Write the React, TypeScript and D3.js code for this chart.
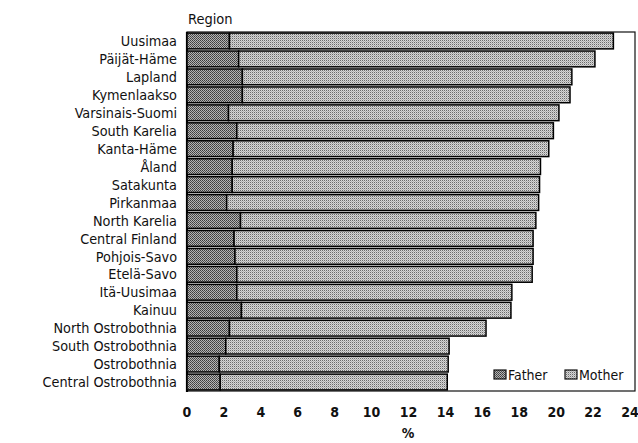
import React from "react";
import * as d3 from "d3";

const regions = [
  "Uusimaa", "Päijät-Häme", "Lapland", "Kymenlaakso", "Varsinais-Suomi",
  "South Karelia", "Kanta-Häme", "Åland", "Satakunta", "Pirkanmaa",
  "North Karelia", "Central Finland", "Pohjois-Savo", "Etelä-Savo", "Itä-Uusimaa",
  "Kainuu", "North Ostrobothnia", "South Ostrobothnia", "Ostrobothnia", "Central Ostrobothnia",
];
const father = [2.3, 2.8, 3.0, 3.0, 2.25, 2.7, 2.5, 2.45, 2.45, 2.15, 2.9, 2.55, 2.6, 2.7, 2.7, 2.95, 2.3, 2.1, 1.75, 1.8];
const mother = [20.8, 19.3, 17.85, 17.75, 17.9, 17.15, 17.1, 16.7, 16.65, 16.9, 16.0, 16.2, 16.15, 16.0, 14.9, 14.6, 13.9, 12.1, 12.4, 12.3];
const xTicks = [0, 2, 4, 6, 8, 10, 12, 14, 16, 18, 20, 22, 24];
const seriesNames = ["Father", "Mother"];

const FONT = "'Liberation Sans Narrow', 'DejaVu Sans Condensed', 'Roboto', sans-serif";

export default function App() {
  const W = 638, H = 443;
  const left = 187, right = 630, top = 32, bottom = 391;
  const x = d3.scaleLinear().domain([0, 24]).range([left, right]);
  const y = d3.scaleBand<string>().domain(regions).range([top, bottom]).paddingInner(0.12).paddingOuter(0.06);
  const bh = y.bandwidth();

  return (
    <svg width={W} height={H} style={{ position: "absolute", left: 0, top: 0, background: "#fff" }}>
      <defs>
        <pattern id="pf" width="2" height="2" patternUnits="userSpaceOnUse">
          <rect width="2" height="2" fill="#b4b4b4" />
          <rect width="1" height="1" fill="#3c3c3c" />
          <rect x="1" y="1" width="1" height="1" fill="#505050" />
        </pattern>
        <pattern id="pm" width="2" height="2" patternUnits="userSpaceOnUse">
          <rect width="2" height="2" fill="#d6d6d6" />
          <rect width="1" height="1" fill="#6a6a6a" />
          <rect x="1" y="1" width="1" height="1" fill="#b0b0b0" />
        </pattern>
      </defs>
      <text x={188} y={24} fontFamily={FONT} fontSize={14.5} fill="#111">Region</text>
      {/* frame */}
      <rect x={left} y={top} width={635 - left} height={bottom - top} fill="none" stroke="#111" strokeWidth={1.2} />
      <line x1={left} x2={left} y1={top} y2={bottom + 1} stroke="#000" strokeWidth={2.2} />
      {regions.map((r, i) => {
        const y0 = y(r)!;
        const f = father[i], m = mother[i];
        return (
          <g key={r}>
            <rect x={x(0)} y={y0} width={x(f) - x(0)} height={bh} fill="url(#pf)" stroke="#000" strokeWidth={1.5} />
            <rect x={x(f)} y={y0} width={x(f + m) - x(f)} height={bh} fill="url(#pm)" stroke="#000" strokeWidth={1.5} />
            <text x={177} y={y0 + bh / 2} dy="0.36em" textAnchor="end" fontFamily={FONT} fontSize={14.3} fill="#111">{r}</text>
          </g>
        );
      })}
      {xTicks.map((t) => (
        <text key={t} x={x(t)} y={417} textAnchor="middle" fontFamily={FONT} fontSize={14} fontWeight="bold" fill="#111">{t}</text>
      ))}
      <text x={408} y={438} textAnchor="middle" fontFamily={FONT} fontSize={14} fontWeight="bold" fill="#111">%</text>
      {/* legend */}
      <g>
        <rect x={494} y={370} width={12} height={9} fill="url(#pf)" stroke="#111" strokeWidth={1.2} />
        <text x={508} y={380} fontFamily={FONT} fontSize={14} fill="#111">{seriesNames[0]}</text>
        <rect x={565} y={370} width={12} height={9} fill="url(#pm)" stroke="#111" strokeWidth={1.2} />
        <text x={579} y={380} fontFamily={FONT} fontSize={14} fill="#111">{seriesNames[1]}</text>
      </g>
    </svg>
  );
}
